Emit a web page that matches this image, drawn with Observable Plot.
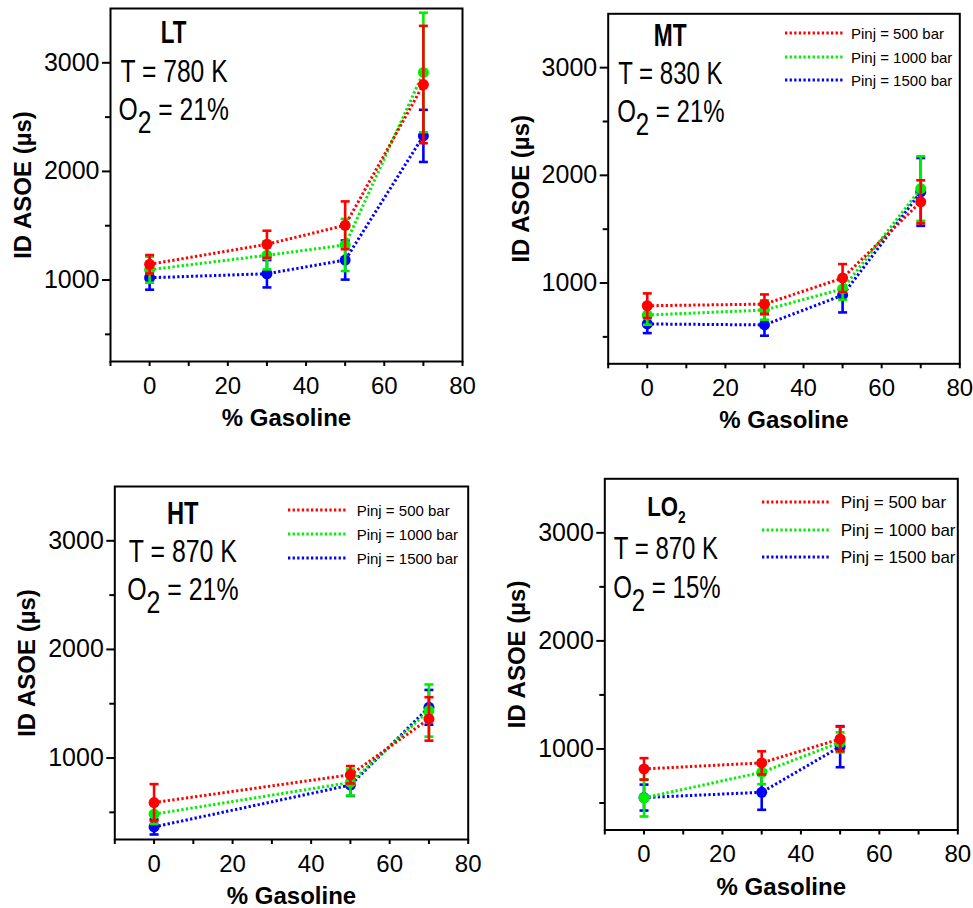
<!DOCTYPE html>
<html><head><meta charset="utf-8">
<script src="https://cdn.jsdelivr.net/npm/d3@7"></script>
<script src="https://cdn.jsdelivr.net/npm/@observablehq/plot@0.6"></script>
<style>
body{margin:0;background:#fff;}
#fig{position:relative;width:973px;height:908px;background:#fff;font-family:'Liberation Sans',Arial,sans-serif;overflow:hidden}
.panel{position:absolute}
.lg{position:absolute;white-space:nowrap;line-height:1;transform:translateY(-50%);color:#000}
.lgline{position:absolute;overflow:visible}
</style></head><body><div id="fig"></div>
<script>
// ---------- data ----------
const seriesNames = ["Pinj = 500 bar", "Pinj = 1000 bar", "Pinj = 1500 bar"];
const seriesColors = ["#ff0000", "#00ee00", "#0000ff"];

// LT : T = 780 K, O2 = 21%
const ltGasoline = [0, 30, 50, 70];
const ltP500 = [1145, 1329, 1504, 2800];
const ltP500Err = [85, 125, 220, 540];
const ltP1000 = [1095, 1228, 1323, 2911];
const ltP1000Err = [120, 130, 240, 550];
const ltP1500 = [1021, 1058, 1184, 2327];
const ltP1500Err = [110, 126, 180, 240];

// MT : T = 830 K, O2 = 21%
const mtGasoline = [0, 30, 50, 70];
const mtP500 = [789, 804, 1046, 1754];
const mtP500Err = [115, 90, 130, 200];
const mtP1000 = [703, 749, 945, 1877];
const mtP1000Err = [90, 90, 100, 300];
const mtP1500 = [620, 611, 887, 1846];
const mtP1500Err = [85, 100, 160, 315];

// HT : T = 870 K, O2 = 21%
const htGasoline = [0, 50, 70];
const htP500 = [590, 846, 1360];
const htP500Err = [170, 80, 200];
const htP1000 = [483, 775, 1437];
const htP1000Err = [90, 120, 240];
const htP1500 = [366, 751, 1467];
const htP1500Err = [70, 100, 160];

// LO2 : T = 870 K, O2 = 15%
const loGasoline = [0, 30, 50];
const loP500 = [815, 871, 1092];
const loP500Err = [100, 107, 114];
const loP1000 = [547, 784, 1061];
const loP1000Err = [172, 110, 92];
const loP1500 = [550, 599, 1021];
const loP1500Err = [120, 162, 190];

const xMajorTicks = [0, 20, 40, 60, 80];
const xMinorTicks = [-10, 10, 30, 50, 70];
const yMajorTicks = [1000, 2000, 3000];
const yMinorTicks = [500, 1500, 2500];

// ---------- layout ----------
const FONT = "'Liberation Sans', Arial, sans-serif";
const panels = [
  {gas: ltGasoline, vals: [ltP500, ltP1000, ltP1500], errs: [ltP500Err, ltP1000Err, ltP1500Err],
   left: 0, top: 0, width: 486, height: 454, mL: 110, mR: 24, mT: 8, mB: 93,
   notes: [
     {t: "LT", dx: 63, dy: 24.5, bold: true, size: 32, sx: 0.7, anchor: "middle"},
     {t: "T = 780 K", dx: 10, dy: 63, size: 32, sx: 0.77},
     {t: "O2 = 21%", dx: 8, dy: 101, size: 32, sx: 0.77, sub: true}
   ], legend: null},
  {gas: mtGasoline, vals: [mtP500, mtP1000, mtP1500], errs: [mtP500Err, mtP1000Err, mtP1500Err],
   left: 497, top: 0, width: 476, height: 454, mL: 110.7, mR: 13.7, mT: 13.3, mB: 90.7,
   notes: [
     {t: "MT", dx: 62, dy: 22, bold: true, size: 32, sx: 0.71, anchor: "middle"},
     {t: "T = 830 K", dx: 10, dy: 60, size: 32, sx: 0.75},
     {t: "O2 = 21%", dx: 9, dy: 98.4, size: 32, sx: 0.75, sub: true}
   ], legend: {x1: 785, x2: 843, tx: 851, ys: [33.3, 56.7, 80], fs: 15}},
  {gas: htGasoline, vals: [htP500, htP1000, htP1500], errs: [htP500Err, htP1000Err, htP1500Err],
   left: 0, top: 454, width: 486, height: 454, mL: 114.3, mR: 18.3, mT: 32, mB: 69,
   notes: [
     {t: "HT", dx: 68, dy: 26.8, bold: true, size: 32, sx: 0.74, anchor: "middle"},
     {t: "T = 870 K", dx: 14, dy: 65.3, size: 32, sx: 0.777},
     {t: "O2 = 21%", dx: 12.4, dy: 103.5, size: 32, sx: 0.777, sub: true}
   ], legend: {x1: 288.3, x2: 346.7, tx: 356.7, ys: [510, 534, 558.3], fs: 15}},
  {gas: loGasoline, vals: [loP500, loP1000, loP1500], errs: [loP500Err, loP1000Err, loP1500Err],
   left: 497, top: 454, width: 476, height: 454, mL: 107.3, mR: 15.7, mT: 24.3, mB: 78.5,
   notes: [
     {t: "LO2", dx: 42.4, dy: 28.4, bold: true, size: 28, sx: 0.79, anchor: "start", smallSub: true},
     {t: "T = 870 K", dx: 9, dy: 69.7, size: 32, sx: 0.75},
     {t: "O2 = 15%", dx: 8.4, dy: 108.7, size: 32, sx: 0.75, sub: true}
   ], legend: {x1: 761.7, x2: 829, tx: 840.7, ys: [502.3, 530, 557.3], fs: 17}}
];

const capSymbol = {
  draw(ctx, size) { const r = Math.sqrt(size / Math.PI); ctx.moveTo(-r, 0); ctx.lineTo(r, 0); }
};
const DASH = "2.3,2.3";
const NS = "http://www.w3.org/2000/svg";
const fig = document.getElementById("fig");

function buildPanel(p) {
  const seriesRows = seriesNames.map((name, si) =>
    p.gas.map((g, i) => ({x: g, y: p.vals[si][i], err: p.errs[si][i], series: name}))
  );
  const marks = [];
  // draw 1500 first, then 1000, then 500 on top
  for (const si of [2, 1, 0]) {
    const rows = seriesRows[si];
    marks.push(Plot.line(rows, {x: "x", y: "y", stroke: "series", strokeWidth: 3, strokeDasharray: DASH, strokeLinecap: "butt", strokeLinejoin: "miter"}));
    marks.push(Plot.ruleX(rows, {x: "x", y1: d => d.y - d.err, y2: d => d.y + d.err, stroke: "series", strokeWidth: 2.6}));
    marks.push(Plot.dot(rows, {x: "x", y: d => d.y + d.err, symbol: capSymbol, r: 4.5, stroke: "series", fill: "none", strokeWidth: 2.6}));
    marks.push(Plot.dot(rows, {x: "x", y: d => d.y - d.err, symbol: capSymbol, r: 4.5, stroke: "series", fill: "none", strokeWidth: 2.6}));
    marks.push(Plot.dot(rows, {x: "x", y: "y", fill: "series", r: 5.5}));
  }
  const notes = p.notes.map(n => Plot.text([n.t], {
    frameAnchor: "top-left", dx: n.dx, dy: n.dy, textAnchor: n.anchor || "start", lineAnchor: "middle",
    fontSize: n.size, fontWeight: n.bold ? "bold" : "normal", fill: "black"
  }));
  const svg = Plot.plot({
    width: p.width, height: p.height,
    marginLeft: p.mL, marginRight: p.mR, marginTop: p.mT, marginBottom: p.mB,
    style: {fontFamily: FONT, background: "white", overflow: "visible", color: "black"},
    x: {domain: [-10, 80]},
    y: {domain: [250, 3500]},
    color: {domain: seriesNames, range: seriesColors},
    marks: [
      Plot.axisX({ticks: xMinorTicks, tickSize: 5, tickFormat: () => "", strokeWidth: 2, label: null}),
      Plot.axisX({ticks: xMajorTicks, tickSize: 5, tickPadding: 10, tickFormat: d => String(d), fontSize: 24, strokeWidth: 2, label: null}),
      Plot.axisY({ticks: yMinorTicks, tickSize: 5, tickFormat: () => "", strokeWidth: 2, label: null}),
      Plot.axisY({ticks: yMajorTicks, tickSize: 8, tickPadding: 3, tickFormat: d => String(d), fontSize: 25, strokeWidth: 2, label: null}),
      ...marks,
      Plot.frame({stroke: "black", strokeWidth: 2}),
      Plot.text(["% Gasoline"], {frameAnchor: "bottom", dy: 57, lineAnchor: "middle", fontSize: 24, fontWeight: "bold", fill: "black"}),
      Plot.text(["ID ASOE (µs)"], {frameAnchor: "left", dx: -87, rotate: -90, lineAnchor: "middle", textAnchor: "middle", fontSize: 24, fontWeight: "bold", fill: "black"}),
      ...notes
    ]
  });
  svg.classList.add("panel");
  svg.style.left = p.left + "px";
  svg.style.top = p.top + "px";
  fig.appendChild(svg);

  // post-process annotation text: subscripts and horizontal condensing
  for (const t of svg.querySelectorAll("text")) {
    const n = p.notes.find(n => n.t === t.textContent);
    if (!n) continue;
    if (n.sub || n.smallSub) {
      const full = n.t;
      const idx = full.indexOf("2");
      const before = full.slice(0, idx), after = full.slice(idx + 1);
      t.textContent = "";
      const a = document.createElementNS(NS, "tspan"); a.textContent = before; t.appendChild(a);
      const s = document.createElementNS(NS, "tspan"); s.textContent = "2";
      if (n.smallSub) { s.setAttribute("font-size", "0.62em"); s.setAttribute("dy", "0.42em"); }
      else { s.setAttribute("dy", "0.4em"); }
      t.appendChild(s);
      if (after) {
        const b = document.createElementNS(NS, "tspan"); b.textContent = after;
        b.setAttribute("dy", "-0.4em"); t.appendChild(b);
      }
    }
    const len = t.getComputedTextLength();
    if (len > 0) {
      t.setAttribute("textLength", (len * n.sx).toFixed(1));
      t.setAttribute("lengthAdjust", "spacingAndGlyphs");
    }
  }

  // legend
  if (p.legend) {
    const L = p.legend;
    seriesNames.forEach((name, i) => {
      const y = L.ys[i];
      const ln = document.createElementNS(NS, "svg");
      ln.setAttribute("class", "lgline");
      ln.setAttribute("width", L.x2 - L.x1);
      ln.setAttribute("height", 6);
      ln.style.left = L.x1 + "px"; ln.style.top = (y - 3) + "px";
      const l = document.createElementNS(NS, "line");
      l.setAttribute("x1", 0); l.setAttribute("x2", L.x2 - L.x1);
      l.setAttribute("y1", 3); l.setAttribute("y2", 3);
      l.setAttribute("stroke", seriesColors[i]); l.setAttribute("stroke-width", 3);
      l.setAttribute("stroke-dasharray", DASH);
      ln.appendChild(l);
      fig.appendChild(ln);
      const sp = document.createElement("div");
      sp.className = "lg";
      sp.textContent = name;
      sp.style.left = L.tx + "px"; sp.style.top = y + "px"; sp.style.fontSize = L.fs + "px";
      fig.appendChild(sp);
    });
  }
}
panels.forEach(buildPanel);
</script></body></html>
